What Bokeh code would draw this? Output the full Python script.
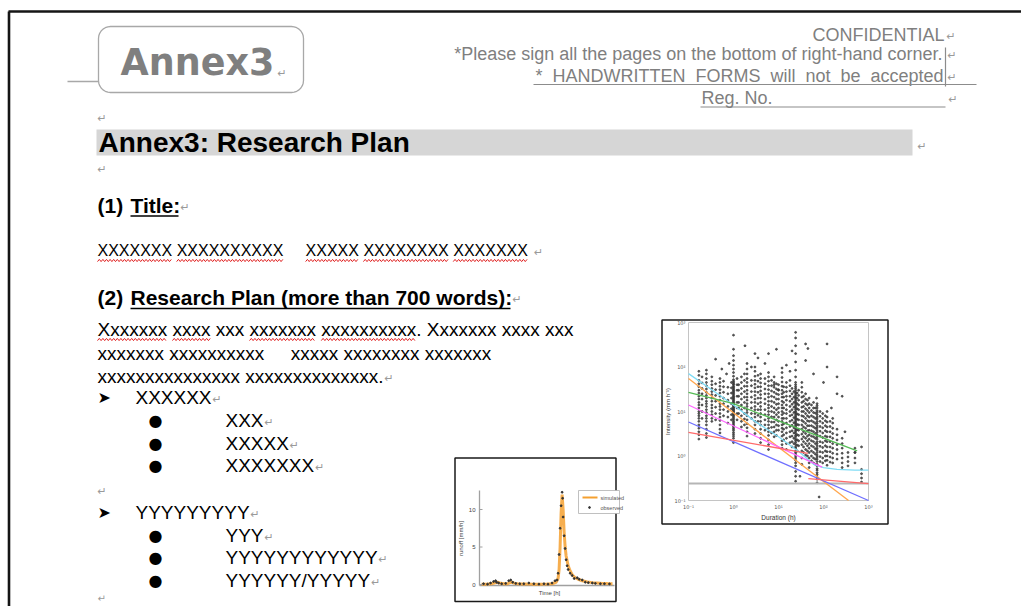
import numpy as np
from bokeh.plotting import figure
from bokeh.models import Range1d, LogScale
from bokeh.core.properties import value
from bokeh.embed import file_html
from bokeh.resources import INLINE

# ---------------- document text ----------------
header_right = ["CONFIDENTIAL",
                "*Please sign all the pages on the bottom of right-hand corner.",
                "*  HANDWRITTEN  FORMS  will  not  be  accepted"]
reg_label = "Reg. No."
logo_text = "Annex3"
heading = "Annex3: Research Plan"
section1 = ["(1) ", "Title:"]
title_text = "XXXXXXX XXXXXXXXXX     XXXXX XXXXXXXX XXXXXXX"
section2 = ["(2) ", "Research Plan (more than 700 words):"]
body_lines = ["Xxxxxxx xxxx xxx xxxxxxx xxxxxxxxxx. Xxxxxxx xxxx xxx",
              "xxxxxxx xxxxxxxxxx     xxxxx xxxxxxxx xxxxxxx",
              "xxxxxxxxxxxxxxx xxxxxxxxxxxxxx."]
list_heads = ["XXXXXX", "YYYYYYYYY"]
list_items = [["XXX", "XXXXX", "XXXXXXX"],
              ["YYY", "YYYYYYYYYYYY", "YYYYYY/YYYYY"]]

# ---------------- mini chart 1: runoff hydrograph ----------------
t_sim = [0, 5, 10, 14, 16, 18, 22, 26, 28, 30, 33, 36, 40, 45, 50, 55, 60, 65, 70, 74, 76, 77, 78,
         79, 80, 81, 82, 83, 84, 86, 88, 90, 93, 96, 100, 105, 110, 115, 120, 125, 130]
q_sim = [0.05, 0.05, 0.1, 0.25, 0.3, 0.2, 0.1, 0.1, 0.25, 0.3, 0.15, 0.1, 0.08, 0.06, 0.05, 0.05,
         0.05, 0.06, 0.1, 0.3, 0.8, 2.0, 5.0, 9.5, 12.0, 10.0, 7.0, 5.0, 3.8, 2.5, 1.8, 1.3, 0.9,
         0.7, 0.5, 0.35, 0.25, 0.2, 0.15, 0.12, 0.1]
t_obs = [2, 6, 9, 12, 14, 15, 17, 20, 24, 27, 29, 31, 34, 38, 42, 47, 52, 57, 62, 66, 70, 73, 75,
         76, 77, 78, 79, 80, 80.5, 81, 82, 83, 84, 85, 86, 88, 90, 92, 95, 97, 100, 103, 106, 110,
         113, 118, 122, 127]
q_obs = [0.1, 0.05, 0.2, 0.4, 0.5, 0.3, 0.2, 0.1, 0.15, 0.5, 0.6, 0.3, 0.15, 0.1, 0.1, 0.2, 0.1,
         0.05, 0.1, 0.05, 0.2, 0.5, 0.6, 1.5, 4.0, 7.5, 10.5, 12.3, 11.5, 9.0, 6.5, 4.8, 3.3, 2.5,
         2.0, 1.5, 1.2, 0.8, 0.9, 0.7, 0.6, 0.3, 0.25, 0.2, 0.15, 0.1, 0.1, 0.08]
runoff_ticks = [0, 5, 10]
runoff_tick_labels = ["0", "5", "10"]
legend_labels = ["simulated", "observed"]

# ---------------- mini chart 2: intensity-duration scatter ----------------
dur_cols = [0.17, 0.2, 0.25, 0.33, 0.4, 0.5, 0.6, 0.75, 0.9, 1, 1.2, 1.3, 1.5, 1.75, 2, 2.5, 3,
            3.5, 4, 5, 6, 7, 8, 9, 10, 12, 13, 15, 18, 20, 22, 24, 26, 28, 33, 36, 40, 44, 48, 54,
            60, 66, 72, 84, 96, 110, 120, 140, 160, 200, 260, 350, 500, 700]
int_cols = [
    [80, 65, 50, 42, 36, 30, 26, 22, 19, 16, 14, 12, 10, 9, 8, 7, 6, 5, 4.2, 3.5, 3.0, 2.4],
    [60, 44, 33, 25, 19, 14, 10, 7],
    [85, 70, 55, 45, 38, 32, 27, 23, 20, 17, 15, 13, 11, 9.5, 8, 7, 6, 5, 4, 3.2, 2.6],
    [60, 48, 40, 33, 28, 24, 20, 17, 14, 12, 10, 8.5, 7, 6],
    [42, 31, 23, 17, 12.5, 9, 6.5],
    [55, 45, 37, 31, 26, 22, 18, 15, 13, 11, 9, 7.5, 6.3, 5, 4, 3.3],
    [48, 36, 27, 20, 15, 11, 8],
    [35, 25, 18, 13, 10, 7.5, 5.5],
    [45, 34, 26, 20, 15, 11.5, 8.5, 6.5],
    [250, 180, 140, 110, 90, 75, 62, 52, 48, 45, 42, 40, 37, 35, 33, 31, 29.5, 28, 26.5, 25, 23.5,
     22, 21, 20, 19, 18, 17, 16, 15.3, 14.5, 13.7, 13, 12.4, 12, 11.3, 11, 10.4, 10, 9.5, 9, 8.5,
     8, 7.5, 7, 6.5, 6, 5.6, 5.2, 4.8, 4.5, 4.1, 3.8, 3.4, 3.1, 2.8, 2.5, 2.0],
    [55, 40, 30, 22, 16, 12, 9, 6.5],
    [40, 30, 22, 16, 12, 9],
    [60, 45, 33, 25, 19, 14, 11, 8, 6, 4.5],
    [70, 50, 37, 28, 21, 16, 12, 9, 6.8, 5],
    [120, 90, 70, 55, 45, 37, 30, 25, 21, 18, 15, 13, 11, 9.5, 8, 6.5, 5.3, 4.3, 3.5, 2.8],
    [50, 38, 28, 21, 16, 12, 9, 7],
    [100, 80, 62, 50, 41, 34, 28, 23, 19, 16, 13, 11, 9, 7.5, 6, 5, 4, 3.2],
    [65, 48, 36, 27, 20, 15, 11, 8.2, 6],
    [70, 55, 44, 36, 29, 24, 20, 16, 13, 11, 9, 7.5, 6, 5, 4, 3.2, 2.5, 2],
    [55, 42, 32, 25, 19, 15, 11, 8.5, 6.5, 5, 3.8],
    [75, 60, 48, 38, 31, 25, 21, 17, 14, 12, 10, 8.5, 7, 6, 5, 4.2, 3.5, 2.9, 2.3, 1.8, 1.4],
    [50, 38, 29, 22, 17, 13, 10, 7.6, 5.8, 4.4, 3.3],
    [60, 45, 35, 27, 21, 16, 12, 9.5, 7.5, 5.8, 4.5, 3.5, 2.7],
    [42, 32, 25, 19, 14.5, 11, 8.5, 6.5, 5, 3.8, 2.9],
    [40, 31, 24, 19, 15, 12, 9.5, 7.5, 6, 4.8, 3.8],
    [95, 75, 58, 46, 37, 30, 25, 21, 17, 14, 12, 10, 8.5, 7, 6, 5, 4.2, 3.5, 2.8, 2.2, 1.8, 1.5],
    [36, 27, 21, 16, 12, 9.2, 7, 5.3, 4, 3, 2.3],
    [45, 35, 28, 22, 18, 14, 11, 9, 7, 5.5, 4.3, 3.3, 2.5, 1.9, 1.4],
    [50, 38, 29, 22, 17, 13, 10, 8, 6, 4.6, 3.5, 2.7, 2],
    [33, 25, 19, 14.5, 11, 8.4, 6.4, 4.9, 3.7, 2.8, 2.1, 1.6],
    [28, 21, 16, 12.5, 9.5, 7.3, 5.6, 4.3, 3.3, 2.5, 1.9],
    [600, 450, 300, 200, 130, 85, 60, 45, 40, 36, 33, 30, 27, 25, 23, 21, 19.5, 18, 16.5, 15.5, 14,
     13, 12, 11, 10, 9.5, 8.7, 8, 7.5, 7, 6.5, 6, 5.6, 5.2, 4.8, 4.5, 4.1, 3.8, 3.5, 3.2, 2.9, 2.7,
     2.4, 2.2, 2.0, 1.8, 1.6, 1.5, 1.3, 1.2, 1.1, 1.0, 0.9, 0.8, 0.7, 0.6, 0.45, 0.35, 0.27],
    [26, 20, 15, 11.5, 8.8, 6.7, 5.1, 3.9, 3, 2.3, 1.75, 1.3],
    [30, 23, 18, 14, 11, 8.5, 6.5, 5, 3.8, 2.9, 2.2, 1.7],
    [45, 35, 27, 21, 16, 12.5, 10, 8, 6.3, 5, 4, 3.1, 2.4, 1.8, 1.3, 0.9, 0.65],
    [22, 17, 13, 10, 7.7, 5.9, 4.5, 3.5, 2.7, 2.1, 1.6, 1.2],
    [25, 19, 15, 11.5, 9, 7, 5.4, 4.2, 3.2, 2.5, 1.9, 1.4, 1.05],
    [18, 14, 10.5, 8, 6.2, 4.8, 3.7, 2.8, 2.2, 1.7, 1.3, 1.0],
    [20, 15, 12, 9.5, 7.5, 6, 4.8, 3.8, 3, 2.4, 1.9, 1.5, 1.2, 0.9, 0.7, 0.55],
    [14, 10.5, 8, 6.2, 4.8, 3.7, 2.8, 2.2, 1.7, 1.3, 1.0, 0.78],
    [16, 12, 9.5, 7.5, 5.8, 4.5, 3.5, 2.7, 2.1, 1.6, 1.2, 0.9, 0.7],
    [12, 9.2, 7, 5.4, 4.2, 3.2, 2.5, 1.9, 1.45, 1.1, 0.85, 0.65],
    [15, 13.5, 12, 10.5, 9.5, 8.5, 7.5, 6.8, 6, 5.4, 4.8, 4.3, 3.8, 3.4, 3, 2.7, 2.4, 2.1, 1.9,
     1.7, 1.5, 1.35, 1.2, 1.05, 0.95, 0.85, 0.75, 0.65, 0.6, 0.52, 0.48, 0.42, 0.38, 0.33, 0.3,
     0.25],
    [10, 7.8, 6, 4.6, 3.6, 2.8, 2.1, 1.65, 1.25, 0.97, 0.75],
    [9, 7, 5.5, 4.3, 3.3, 2.6, 2, 1.55, 1.2, 0.9, 0.7],
    [8, 6.2, 4.8, 3.7, 2.8, 2.2, 1.7, 1.3, 1.0, 0.78],
    [10, 7.5, 5.8, 4.5, 3.5, 2.7, 2.1, 1.6, 1.25, 1.0, 0.8, 0.62],
    [6, 4.6, 3.5, 2.7, 2.1, 1.6, 1.25, 0.95, 0.73],
    [7, 5.5, 4.2, 3.2, 2.5, 1.9, 1.5, 1.15, 0.9, 0.7],
    [4, 3, 2.3, 1.8, 1.4, 1.1, 0.85],
    [2.5, 1.9, 1.5, 1.15, 0.9, 0.7, 0.55],
    [1.2, 0.95, 0.75, 0.6],
    [1.5, 1.2, 0.9, 0.7],
    [0.5, 0.4, 0.32, 0.26],
]
extra_dur = [1, 1.8, 0.4, 0.55, 3.5, 6, 9, 20, 40, 45, 120, 120, 200, 200, 260, 700, 40, 3, 0.8,
             15, 80, 30, 100, 60, 8, 10, 70, 150, 300, 500, 0.7, 2.5, 5, 18]
extra_int = [520, 300, 150, 90, 160, 200, 250, 230, 330, 260, 330, 100, 60, 25, 22, 1.6, 140, 200,
             120, 110, 0.12, 0.35, 45, 70, 40, 30, 20, 12, 3.5, 1.2, 70, 100, 120, 80]
fit_lines = {
    "orange":  ([0.1, 360], [55, 0.1], "#ffa64d"),
    "cyan":    ([0.1, 0.3, 1, 3, 10, 30, 60, 100, 200, 500, 1000],
                [71, 33, 14, 6.0, 2.7, 1.2, 0.65, 0.55, 0.5, 0.48, 0.48], "#7fdcf5"),
    "green":   ([0.1, 1, 560], [27, 15, 1.3], "#55bb55"),
    "magenta": ([0.1, 93], [14, 0.56], "#ff66ff"),
    "blue":    ([0.1, 1000], [5.8, 0.1], "#6f6fff"),
    "red1":    ([0.1, 45], [3.4, 1.15], "#ff6a6a"),
    "red2":    ([46, 1000], [0.31, 0.24], "#ff6a6a"),
}
threshold = 0.24
dur_ticks = [0.1, 1, 10, 100, 1000]
tick_labels_log = ["10\u207b\u00b9", "10\u2070", "10\u00b9", "10\u00b2", "10\u00b3"]

# ---------------- page / figure ----------------
W, H = 1021, 606
p = figure(width=W, height=H, x_range=Range1d(0, W), y_range=Range1d(H, 0),
           output_backend="svg", toolbar_location=None, x_axis_type=None, y_axis_type=None,
           min_border=0)
p.outline_line_color = None
p.background_fill_color = "white"
p.border_fill_color = "white"


def lin_extra(d0, d1, p0, p1, f_start, f_end, log=False):
    if log:
        d0, d1 = np.log10(d0), np.log10(d1)
    k = (d1 - d0) / (p1 - p0)
    s = d0 + (f_start - p0) * k
    e = d0 + (f_end - p0) * k
    if log:
        s, e = 10 ** s, 10 ** e
    return Range1d(start=float(s), end=float(e))


p.extra_x_ranges = {"t": lin_extra(0, 130, 481, 612, 0, W),
                    "dur": lin_extra(0.1, 1000, 688, 868, 0, W, log=True)}
p.extra_y_ranges = {"runoff": lin_extra(0, 10, 584, 509, H, 0),
                    "inten": lin_extra(0.1, 1000, 500, 322, H, 0, log=True)}
p.extra_x_scales = {"dur": LogScale()}
p.extra_y_scales = {"inten": LogScale()}

SANS = "Liberation Sans"
GRAY = "#7f7f7f"
RET = "#9a9a9a"


def T(x, y, s, size, color="#000000", font=SANS, style="normal", align="left",
      baseline="middle", angle=0.0, xr="default", yr="default"):
    xs = x if isinstance(x, list) else None
    ys = y if isinstance(y, list) else None
    ss = s if isinstance(s, list) else None
    n = max([len(v) for v in (xs, ys, ss) if v is not None] or [1])
    xs = xs if xs is not None else [x] * n
    ys = ys if ys is not None else [y] * n
    ss = ss if ss is not None else [s] * n
    ss = [t.replace(" ", "\u00a0") for t in ss]   # keep runs of spaces in SVG
    p.text(x=xs, y=ys, text=ss, text_font=value(font), text_font_size=f"{size}px",
           text_font_style=style, text_color=color, text_align=align, text_baseline=baseline,
           angle=angle, x_range_name=xr, y_range_name=yr)


def ret(x, yc, size=11):
    T(x, yc + 2, "\u21b5", size, color=RET, font="DejaVu Sans")


AW = {'X': .667, 'x': .5, 'Y': .667, ' ': .278, '.': .278, '/': .278}


def tw(s, size):
    return sum(AW.get(c, .556) for c in s) * size


def word_spans(s, size, x0):
    spans, pos = [], 0
    for w in s.split(' '):
        if w:
            spans.append((x0 + tw(s[:pos], size), x0 + tw(s[:pos + len(w)], size)))
        pos += len(w) + 1
    return spans


def wavy(x0, x1, y):
    xs = np.arange(x0, x1 + 0.01, 1.8)
    ys = y + 1.1 * np.array([(-1) ** i for i in range(len(xs))])
    p.line(xs, ys, line_color="#e02020", line_width=1.0)


def rrect(x0, y0, x1, y1, r, color, width):
    xs, ys = [], []
    for cx, cy, a0 in [(x1 - r, y0 + r, -90), (x1 - r, y1 - r, 0), (x0 + r, y1 - r, 90), (x0 + r, y0 + r, 180)]:
        for a in np.radians(np.linspace(a0, a0 + 90, 8)):
            xs.append(cx + r * np.cos(a))
            ys.append(cy + r * np.sin(a))
    xs.append(xs[0]); ys.append(ys[0])
    p.line(xs, ys, line_color=color, line_width=width)


# page border
p.segment(x0=[8, 8.5], y0=[11, 11], x1=[W, 8.5], y1=[11, H], line_color="#151515", line_width=2.6)

# ---------------- header ----------------
p.segment(x0=[67], y0=[81], x1=[98], y1=[81], line_color="#a8a8a8", line_width=1.5)
rrect(98, 26, 303, 92, 12, "#a8a8a8", 1.3)
T(120, 62, logo_text, 36.5, color=GRAY, font="DejaVu Sans", style="bold")
ret(277, 71)

T(944, 34, header_right[0], 18, color=GRAY, align="right")
ret(946, 34)
T(942, 53, header_right[1], 18, color=GRAY, align="right")
ret(947, 53)
T(943, 75, header_right[2], 18, color=GRAY, align="right")
ret(947, 75)
p.segment(x0=[533, 700, 945], y0=[84, 106.5, 47], x1=[976, 945, 945], y1=[84, 106.5, 86],
          line_color="#8c8c8c", line_width=1.2)
T(701, 97.5, reg_label, 18, color=GRAY)
ret(948, 97)

# ---------------- heading ----------------
BX = 97
ret(BX, 116)
p.quad(left=[96], right=[912], top=[129], bottom=[155], fill_color="#d6d6d6", line_color=None)
T(98, 142, heading, 28, style="bold")
ret(917, 144)
ret(BX, 167)

# (1) Title
x_t = 130
T(BX, 205, section1[0], 21, style="bold")
T(x_t, 205, section1[1], 21, style="bold")
p.segment(x0=[x_t], y0=[215.5], x1=[178], y1=[215.5], line_color="#000000", line_width=1.6)
ret(180, 205)

T(BX, 250, title_text, 16)
for a, b in word_spans(title_text, 16, BX):
    wavy(a, b, 260)
ret(BX + tw(title_text, 16) + 6, 250)

# (2) Research plan
T(BX, 297, section2[0], 21, style="bold")
T(x_t, 297, section2[1], 21, style="bold")
p.segment(x0=[x_t], y0=[308], x1=[510], y1=[308], line_color="#000000", line_width=1.6)
ret(512, 297)

body_center = [329, 353, 376]
for s, yc in zip(body_lines, body_center):
    T(BX, yc, s, 19)
for i, (a, b) in enumerate(word_spans(body_lines[0], 19, BX)):
    if i in (0, 1, 3, 4):
        wavy(a, b - (5 if i == 4 else 0), 339)
ret(BX + tw(body_lines[2], 19) + 1, 376)

head_center = [397, 512]
item_center = [[420, 443, 465], [535, 557, 580]]
for h, hc, items, ic in zip(list_heads, head_center, list_items, item_center):
    T(97, hc, "\u27a4", 16, font="DejaVu Sans")
    T(135, hc, h, 19)
    ret(135 + tw(h, 19) + 1, hc)
    for it, yc in zip(items, ic):
        T(155, yc, "\u25cf", 16, font="DejaVu Sans", align="center")
        T(225, yc, it, 19)
        ret(225 + tw(it, 19) + 1, yc)
ret(BX, 489)
ret(BX, 596, size=10)

# ---------------- mini chart 1 ----------------
p.quad(left=[454.5], right=[615.5], top=[457.5], bottom=[601], fill_color="white",
       line_color="#1a1a1a", line_width=1.5)
p.segment(x0=[479, 479], y0=[490, 585], x1=[479, 614], y1=[585, 585], line_color="#a0a0a0", line_width=1.3)
p.line(t_sim, q_sim, x_range_name="t", y_range_name="runoff", line_color="#f5a030",
       line_width=3, line_alpha=0.85)
p.scatter(t_obs, q_obs, x_range_name="t", y_range_name="runoff", size=1.8, color="#333333")
T(475, runoff_ticks, runoff_tick_labels, 6, color="#444444", align="right", yr="runoff")
p.segment(x0=[479] * 3, y0=runoff_ticks, x1=[482] * 3, y1=runoff_ticks, y_range_name="runoff",
          line_color="#a0a0a0", line_width=1)
p.quad(left=[578], right=[619], top=[490], bottom=[513], fill_color="white", line_color="#b0b0b0",
       line_width=0.8)
p.segment(x0=[582], y0=[497], x1=[597], y1=[497], line_color="#f5a030", line_width=2)
p.scatter([589], [507], size=1.8, color="#333333")
T(600, [497, 507], legend_labels, 5.5, color="#555555")
T(549, 592, "Time [h]", 6, color="#444444", align="center")
T(460, 538, "runoff [mm/h]", 6, color="#444444", align="center", angle=np.pi / 2)

# ---------------- mini chart 2 ----------------
p.quad(left=[661.5], right=[887.5], top=[319.5], bottom=[523.5], fill_color="white",
       line_color="#1a1a1a", line_width=1.5)
p.quad(left=[688], right=[868], top=[322], bottom=[500], fill_color=None, line_color="#c4c4c4",
       line_width=1)
dx, dy = [], []
for d, col in zip(dur_cols, int_cols):
    dx += [d] * len(col)
    dy += col
p.scatter(dx + extra_dur, dy + extra_int, x_range_name="dur", y_range_name="inten", size=1.9,
          color="#3a3a3a", alpha=0.8)
p.line([0.1, 1000], [threshold, threshold], x_range_name="dur", y_range_name="inten",
       line_color="#b5b5b5", line_width=2)
for name, (xs, ys, col) in fit_lines.items():
    p.line(xs, ys, x_range_name="dur", y_range_name="inten", line_color=col, line_width=1.3)
T(dur_ticks, 506, tick_labels_log, 5, color="#555555", font="DejaVu Sans", align="center",
  xr="dur")
T(685, dur_ticks, tick_labels_log, 5, color="#555555", font="DejaVu Sans", align="right",
  yr="inten")
T(778, 517, "Duration (h)", 6.5, color="#333333", align="center")
T(667, 411, "Intensity (mm h\u207b\u00b9)", 6, color="#333333", align="center", angle=np.pi / 2)

open("out.html", "w").write(file_html(p, INLINE))
